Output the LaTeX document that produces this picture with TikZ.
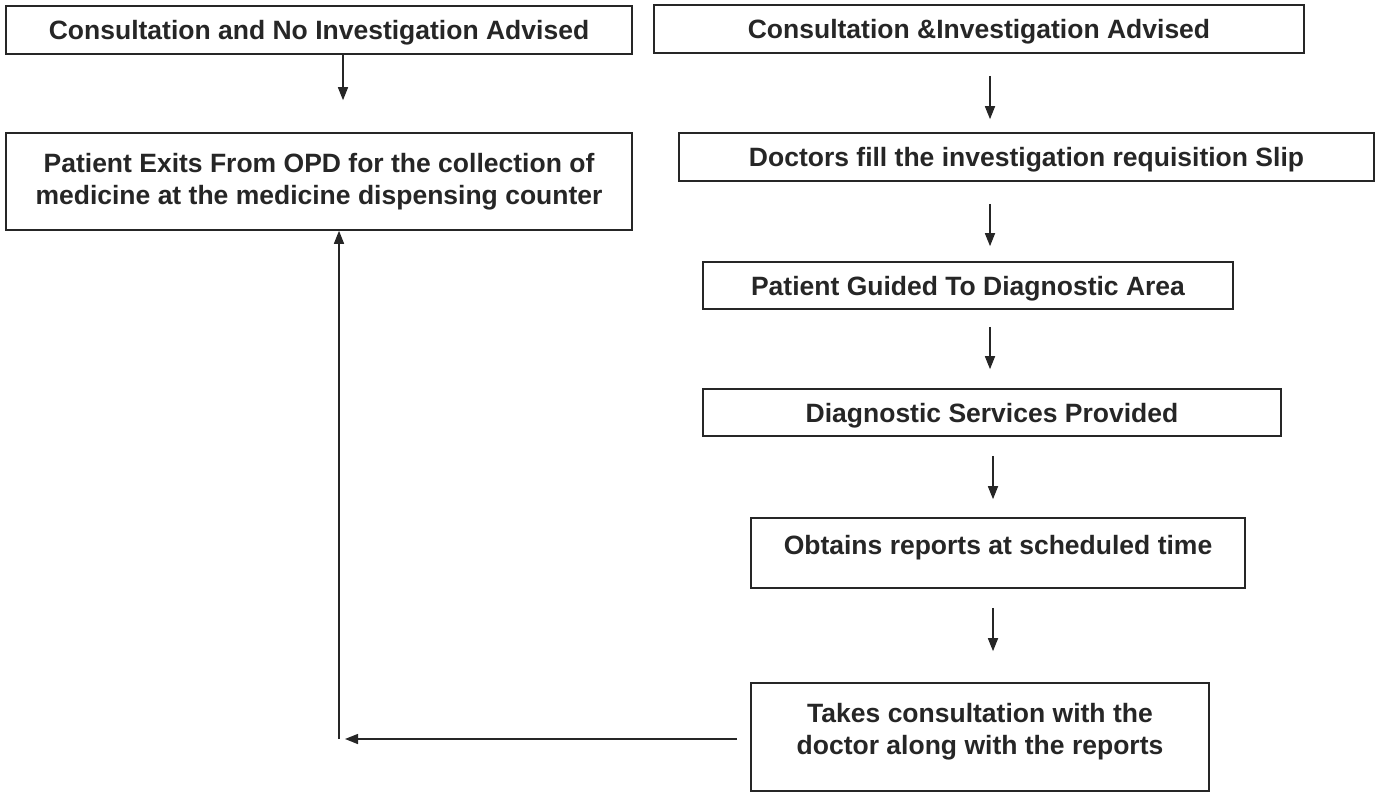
\documentclass[tikz,border=0pt]{standalone}
\usepackage{fontspec}
\setmainfont{Liberation Sans}
\usetikzlibrary{arrows.meta}
\newcommand{\padbelow}{\rule[-16.5pt]{0pt}{16.5pt}}

\begin{document}
\begin{tikzpicture}[x=1pt,y=-1pt,
    box/.style={draw=black!85,line width=1.6pt,inner sep=0pt,align=center,text=black!85,font=\fontsize{26.5}{32.5}\selectfont\bfseries},
    oneline/.style={box,text height=19pt,text depth=0pt},
    arr/.style={line width=1.5pt,draw=black!85,-{Triangle[length=13pt,width=10pt]}}]
  \useasboundingbox (0,0) rectangle (1376,792);
  % left column
  \node[oneline,minimum width=626pt,minimum height=48pt](noinv) at (319,30){Consultation and No Investigation Advised};
  \node[box,minimum width=626pt,minimum height=97pt](exit) at (319,181.5){Patient Exits From OPD for the collection of\\medicine at the medicine dispensing counter};
  % right column
  \node[oneline,minimum width=650pt,minimum height=48pt](inv) at (979,29){Consultation \&Investigation Advised};
  \node[oneline,minimum width=695pt,minimum height=48pt](slip) at (1026.5,157){Doctors fill the investigation requisition Slip};
  \node[oneline,minimum width=530pt,minimum height=47pt](guided) at (968,285.5){Patient Guided To Diagnostic Area};
  \node[oneline,minimum width=578pt,minimum height=47pt](services) at (992,412.5){Diagnostic Services Provided};
  \node[box,minimum width=494pt,minimum height=70pt](reports) at (998,553){Obtains reports at scheduled time\padbelow};
  \node[box,minimum width=458pt,minimum height=108pt](consult) at (980,737){Takes consultation with the\\doctor along with the reports\padbelow};
  \coordinate (colR) at (990,0);
  \coordinate (colS) at (993,0);
  \coordinate (turn) at (339,739);
  % arrows
  \draw[arr,shorten >=32pt] ([xshift=24pt]noinv.south) -- ([xshift=24pt]exit.north);
  \draw[arr,shorten <=22pt,shorten >=13pt] (inv.south -| colR) -- (slip.north -| colR);
  \draw[arr,shorten <=22pt,shorten >=15pt] (slip.south -| colR) -- (guided.north -| colR);
  \draw[arr,shorten <=17pt,shorten >=19pt] (guided.south -| colR) -- (services.north -| colR);
  \draw[arr,shorten <=19pt,shorten >=18pt] (services.south -| colS) -- (reports.north -| colS);
  \draw[arr,shorten <=19pt,shorten >=31pt] (reports.south -| colS) -- (consult.north -| colS);
  \draw[arr,shorten <=13pt,shorten >=6pt] (consult.west |- turn) -- (turn);
  \draw[arr] (turn) -- (exit.south -| turn);
\end{tikzpicture}
\end{document}
